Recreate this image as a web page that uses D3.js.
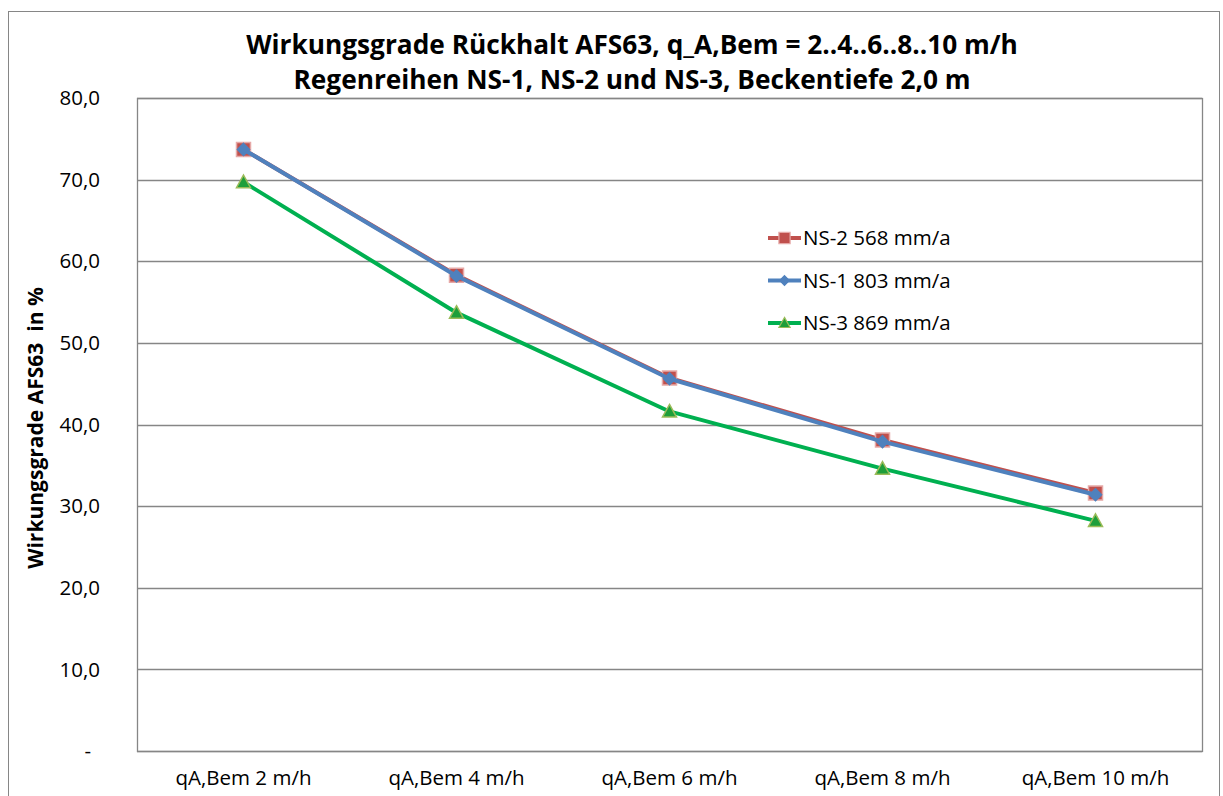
<!DOCTYPE html>
<html><head><meta charset="utf-8">
<script src="https://cdn.jsdelivr.net/npm/d3@7"></script>
<style>body{margin:0;background:#fff}svg{display:block}text{white-space:pre}</style>
</head><body>
<svg id="c" width="1223" height="796"></svg>
<script>
const categories = ["qA,Bem 2 m/h","qA,Bem 4 m/h","qA,Bem 6 m/h","qA,Bem 8 m/h","qA,Bem 10 m/h"];
const ns2 = [73.7, 58.3, 45.7, 38.1, 31.6];
const ns1 = [73.7, 58.2, 45.6, 37.9, 31.4];
const ns3 = [69.7, 53.7, 41.6, 34.6, 28.2];
const seriesNames = ["NS-2 568 mm/a","NS-1 803 mm/a","NS-3 869 mm/a"];
const yTicks = [0,10,20,30,40,50,60,70,80];
const titleLines = ["Wirkungsgrade Rückhalt AFS63, q_A,Bem = 2..4..6..8..10 m/h","Regenreihen NS-1, NS-2 und NS-3, Beckentiefe 2,0 m"];
const yLabel = "Wirkungsgrade AFS63  in %";

const font = "'Open Sans', sans-serif";
const fs = 20.5;
const svg = d3.select("#c");
const L=137,T=98,R=1202,B=751;
svg.append("rect").attr("x",8.5).attr("y",11.5).attr("width",1211).attr("height",800)
  .attr("fill","#fff").attr("stroke","#868686").attr("stroke-width",1);

const x = d3.scaleBand().domain(categories).range([L,R]);
const y = d3.scaleLinear().domain([0,80]).range([B,T]);

function fit(sel, target){
  sel.each(function(){
    const w = this.getComputedTextLength();
    const f = parseFloat(d3.select(this).attr("font-size"));
    d3.select(this).attr("font-size", f*target/w);
  });
}

// grid
svg.append("g").selectAll("line").data(yTicks).join("line")
  .attr("x1",L).attr("x2",R).attr("y1",d=>Math.round(y(d))+0.5).attr("y2",d=>Math.round(y(d))+0.5)
  .attr("stroke","#868686").attr("stroke-width",1.3);
svg.append("rect").attr("x",L+0.5).attr("y",T+0.5).attr("width",R-L).attr("height",B-T)
  .attr("fill","none").attr("stroke","#868686").attr("stroke-width",1.3);

// y axis labels
const fmt = d => d===0 ? "-" : d3.format(".1f")(d).replace(".",",");
svg.append("g").selectAll("text").data(yTicks).join("text")
  .attr("x",d=>d===0?91:100).attr("y",d=>y(d)).attr("dy","0.35em").attr("text-anchor","end")
  .attr("font-family",font).attr("font-size",fs).attr("fill","#000").text(fmt);

// x axis labels
svg.append("g").selectAll("text").data(categories).join("text")
  .attr("x",d=>x(d)+x.bandwidth()/2).attr("y",778).attr("dy","0.35em").attr("text-anchor","middle")
  .attr("font-family",font).attr("font-size",fs).attr("fill","#000").text(d=>d);

// title
const tt = svg.append("g").selectAll("text").data(titleLines).join("text")
  .attr("x",632).attr("y",(d,i)=>45+i*35).attr("dy","0.35em").attr("text-anchor","middle")
  .attr("font-family",font).attr("font-weight","bold").attr("font-size",22).attr("fill","#000").text(d=>d);
fit(tt.filter((d,i)=>i===0), 772);
tt.filter((d,i)=>i===1).attr("font-size", tt.filter((d,i)=>i===0).attr("font-size"));

// y label
const yl = svg.append("text").attr("transform","translate(36,428) rotate(-90)").attr("text-anchor","middle").attr("dy","0.35em")
  .attr("font-family",font).attr("font-weight","bold").attr("font-size",18).text(yLabel);
fit(yl, 282);

const sq = 14, dm = 12, tr = 14;
const squarePath = `M${-sq/2},${-sq/2}h${sq}v${sq}h${-sq}Z`;
const diamondPath = `M0,${-dm/2}L${dm/2},0L0,${dm/2}L${-dm/2},0Z`;
const triPath = `M0,${-tr*0.5}L${tr/2},${tr*0.4}L${-tr/2},${tr*0.4}Z`;
const series = [
  {name:seriesNames[0], vals:ns2, line:"#C0504D", fill:"#C0504D", stroke:"#E6A9A7", path:squarePath},
  {name:seriesNames[1], vals:ns1, line:"#4F81BD", fill:"#4F81BD", stroke:"#4F81BD", path:diamondPath},
  {name:seriesNames[2], vals:ns3, line:"#00B050", fill:"#1E9E3A", stroke:"#9BBB59", path:triPath},
];
const cx = c => x(c)+x.bandwidth()/2;
const lineGen = d3.line().x(d=>cx(d.c)).y(d=>y(d.v));
series.forEach(s=>{
  const pts = categories.map((c,i)=>({c,v:s.vals[i]}));
  svg.append("path").datum(pts).attr("d",lineGen).attr("fill","none").attr("stroke",s.line).attr("stroke-width",4).attr("stroke-linejoin","round");
  svg.append("g").selectAll("path").data(pts).join("path")
    .attr("transform",d=>`translate(${cx(d.c)},${y(d.v)})`)
    .attr("d",s.path)
    .attr("fill",s.fill).attr("stroke",s.stroke).attr("stroke-width",1.5);
});

// legend
const lg = svg.append("g");
series.forEach((s,i)=>{
  const ly = 238 + i*42.5;
  lg.append("line").attr("x1",768).attr("x2",801).attr("y1",ly).attr("y2",ly).attr("stroke",s.line).attr("stroke-width",4);
  lg.append("path").attr("transform",`translate(784.5,${ly}) scale(0.8)`).attr("d",s.path)
    .attr("fill",s.fill).attr("stroke",s.stroke).attr("stroke-width",1.5);
  lg.append("text").attr("x",803).attr("y",ly).attr("dy","0.35em").attr("font-family",font).attr("font-size",fs).text(s.name);
});
</script>
</body></html>
